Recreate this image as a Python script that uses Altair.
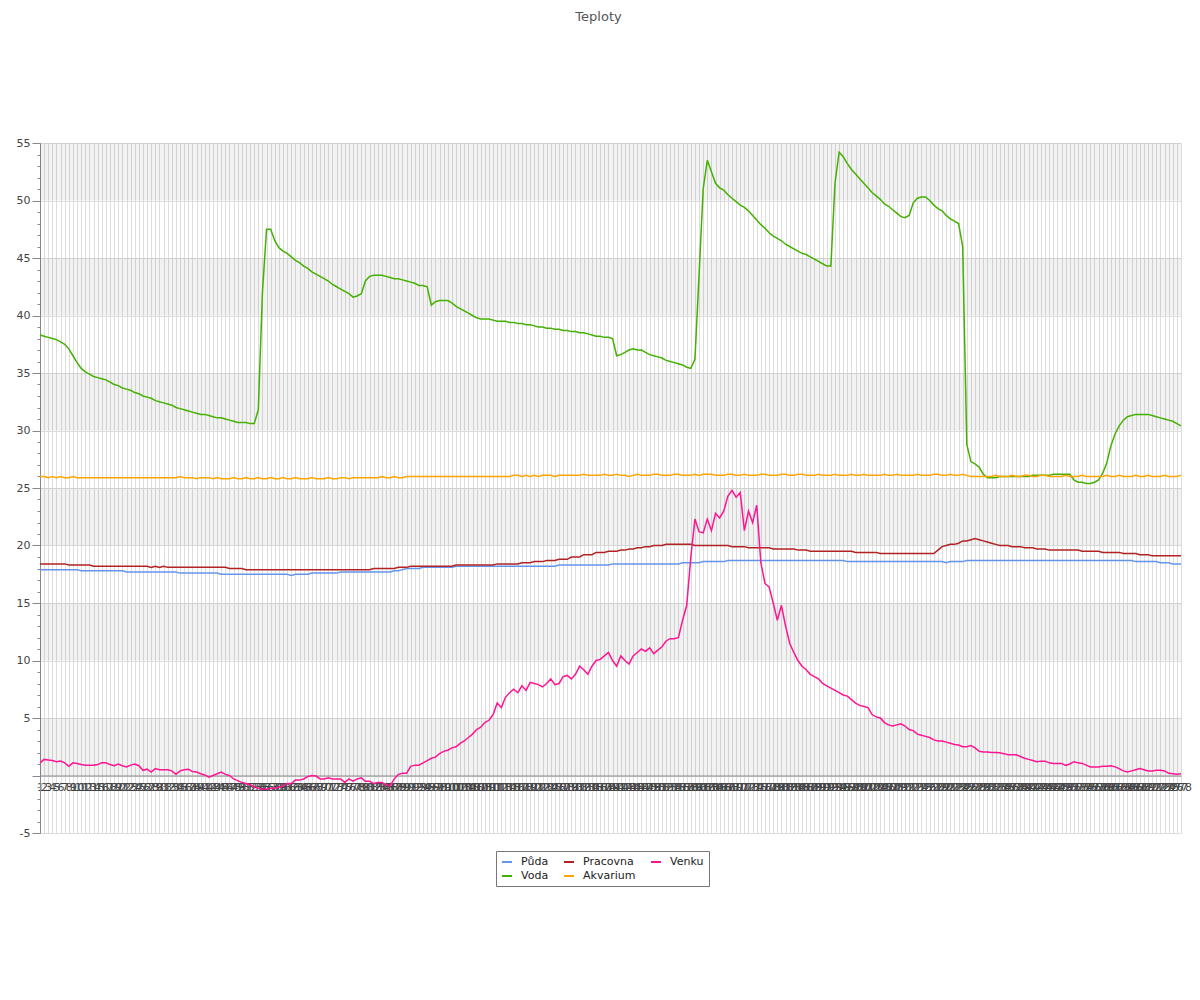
import altair as alt
import pandas as pd

# ---- data ----
series_names = ["Půda", "Voda", "Pracovna", "Akvarium", "Venku"]
x_labels = [str(i) for i in range(1, 279)]

puda = [
    17.9, 17.9, 17.9, 17.9, 17.9, 17.9, 17.9, 17.9, 17.9, 17.9,
    17.8, 17.8, 17.8, 17.8, 17.8, 17.8, 17.8, 17.8, 17.8, 17.8,
    17.8, 17.7, 17.7, 17.7, 17.7, 17.7, 17.7, 17.7, 17.7, 17.7,
    17.7, 17.7, 17.7, 17.7, 17.6, 17.6, 17.6, 17.6, 17.6, 17.6,
    17.6, 17.6, 17.6, 17.6, 17.5, 17.5, 17.5, 17.5, 17.5, 17.5,
    17.5, 17.5, 17.5, 17.5, 17.5, 17.5, 17.5, 17.5, 17.5, 17.5,
    17.5, 17.4, 17.5, 17.5, 17.5, 17.5, 17.6, 17.6, 17.6, 17.6,
    17.6, 17.6, 17.6, 17.7, 17.7, 17.7, 17.7, 17.7, 17.7, 17.7,
    17.7, 17.7, 17.7, 17.7, 17.7, 17.7, 17.8, 17.8, 17.9, 18.0,
    18.0, 18.0, 18.0, 18.1, 18.1, 18.1, 18.1, 18.1, 18.1, 18.1,
    18.1, 18.2, 18.2, 18.2, 18.2, 18.2, 18.2, 18.2, 18.2, 18.2,
    18.2, 18.2, 18.2, 18.2, 18.2, 18.2, 18.2, 18.2, 18.2, 18.2,
    18.2, 18.2, 18.2, 18.2, 18.2, 18.2, 18.3, 18.3, 18.3, 18.3,
    18.3, 18.3, 18.3, 18.3, 18.3, 18.3, 18.3, 18.3, 18.3, 18.4,
    18.4, 18.4, 18.4, 18.4, 18.4, 18.4, 18.4, 18.4, 18.4, 18.4,
    18.4, 18.4, 18.4, 18.4, 18.4, 18.4, 18.5, 18.5, 18.5, 18.5,
    18.5, 18.6, 18.6, 18.6, 18.6, 18.6, 18.6, 18.7, 18.7, 18.7,
    18.7, 18.7, 18.7, 18.7, 18.7, 18.7, 18.7, 18.7, 18.7, 18.7,
    18.7, 18.7, 18.7, 18.7, 18.7, 18.7, 18.7, 18.7, 18.7, 18.7,
    18.7, 18.7, 18.7, 18.7, 18.7, 18.7, 18.6, 18.6, 18.6, 18.6,
    18.6, 18.6, 18.6, 18.6, 18.6, 18.6, 18.6, 18.6, 18.6, 18.6,
    18.6, 18.6, 18.6, 18.6, 18.6, 18.6, 18.6, 18.6, 18.6, 18.6,
    18.5, 18.6, 18.6, 18.6, 18.6, 18.7, 18.7, 18.7, 18.7, 18.7,
    18.7, 18.7, 18.7, 18.7, 18.7, 18.7, 18.7, 18.7, 18.7, 18.7,
    18.7, 18.7, 18.7, 18.7, 18.7, 18.7, 18.7, 18.7, 18.7, 18.7,
    18.7, 18.7, 18.7, 18.7, 18.7, 18.7, 18.7, 18.7, 18.7, 18.7,
    18.7, 18.7, 18.7, 18.7, 18.7, 18.7, 18.6, 18.6, 18.6, 18.6,
    18.6, 18.6, 18.5, 18.5, 18.5, 18.4, 18.4, 18.4,
]

voda = [
    38.3, 38.2, 38.1, 38.0, 37.9, 37.7, 37.5, 37.1, 36.5, 35.9,
    35.4, 35.1, 34.9, 34.7, 34.6, 34.5, 34.4, 34.2, 34.0, 33.9,
    33.7, 33.6, 33.5, 33.3, 33.2, 33.0, 32.9, 32.8, 32.6, 32.5,
    32.4, 32.3, 32.2, 32.0, 31.9, 31.8, 31.7, 31.6, 31.5, 31.4,
    31.4, 31.3, 31.2, 31.1, 31.1, 31.0, 30.9, 30.8, 30.7, 30.7,
    30.7, 30.6, 30.6, 31.8, 42.0, 47.5, 47.5, 46.5, 45.9, 45.6,
    45.4, 45.1, 44.8, 44.6, 44.3, 44.1, 43.8, 43.6, 43.4, 43.2,
    43.0, 42.7, 42.5, 42.3, 42.1, 41.9, 41.6, 41.7, 41.9, 43.0,
    43.4, 43.5, 43.5, 43.5, 43.4, 43.3, 43.2, 43.2, 43.1, 43.0,
    42.9, 42.8, 42.6, 42.6, 42.5, 40.9, 41.2, 41.3, 41.3, 41.3,
    41.1, 40.8, 40.6, 40.4, 40.2, 40.0, 39.8, 39.7, 39.7, 39.7,
    39.6, 39.5, 39.5, 39.5, 39.4, 39.4, 39.3, 39.3, 39.2, 39.2,
    39.1, 39.0, 39.0, 38.9, 38.9, 38.8, 38.8, 38.7, 38.7, 38.6,
    38.6, 38.5, 38.5, 38.4, 38.3, 38.2, 38.2, 38.1, 38.1, 38.0,
    36.5, 36.6, 36.8, 37.0, 37.1, 37.0, 37.0, 36.8, 36.6, 36.5,
    36.4, 36.3, 36.1, 36.0, 35.9, 35.8, 35.7, 35.5, 35.4, 36.2,
    43.5, 51.0, 53.5, 52.5, 51.5, 51.1, 50.9, 50.5, 50.2, 49.9,
    49.6, 49.4, 49.1, 48.7, 48.3, 47.9, 47.6, 47.2, 46.9, 46.7,
    46.5, 46.2, 46.0, 45.8, 45.6, 45.4, 45.3, 45.1, 44.9, 44.7,
    44.5, 44.3, 44.3, 51.5, 54.2, 53.8, 53.2, 52.7, 52.3, 51.9,
    51.5, 51.1, 50.7, 50.4, 50.1, 49.7, 49.5, 49.2, 48.9, 48.6,
    48.5, 48.7, 49.8, 50.2, 50.3, 50.3, 50.0, 49.6, 49.3, 49.1,
    48.7, 48.4, 48.2, 48.0, 46.0, 28.8, 27.3, 27.1, 26.8, 26.2,
    25.9, 25.9, 25.9, 26.0, 26.0, 26.0, 26.0, 26.0, 26.0, 26.0,
    26.0, 26.1, 26.1, 26.1, 26.1, 26.1, 26.2, 26.2, 26.2, 26.2,
    26.2, 25.7, 25.5, 25.5, 25.4, 25.4, 25.5, 25.7, 26.3, 27.2,
    28.7, 29.7, 30.4, 30.9, 31.2, 31.3, 31.4, 31.4, 31.4, 31.4,
    31.3, 31.2, 31.1, 31.0, 30.9, 30.8, 30.6, 30.4,
]

pracovna = [
    18.4, 18.4, 18.4, 18.4, 18.4, 18.4, 18.4, 18.3, 18.3, 18.3,
    18.3, 18.3, 18.3, 18.2, 18.2, 18.2, 18.2, 18.2, 18.2, 18.2,
    18.2, 18.2, 18.2, 18.2, 18.2, 18.2, 18.2, 18.1, 18.2, 18.1,
    18.2, 18.1, 18.1, 18.1, 18.1, 18.1, 18.1, 18.1, 18.1, 18.1,
    18.1, 18.1, 18.1, 18.1, 18.1, 18.1, 18.0, 18.0, 18.0, 18.0,
    17.9, 17.9, 17.9, 17.9, 17.9, 17.9, 17.9, 17.9, 17.9, 17.9,
    17.9, 17.9, 17.9, 17.9, 17.9, 17.9, 17.9, 17.9, 17.9, 17.9,
    17.9, 17.9, 17.9, 17.9, 17.9, 17.9, 17.9, 17.9, 17.9, 17.9,
    17.9, 18.0, 18.0, 18.0, 18.0, 18.0, 18.0, 18.1, 18.1, 18.1,
    18.2, 18.2, 18.2, 18.2, 18.2, 18.2, 18.2, 18.2, 18.2, 18.2,
    18.2, 18.3, 18.3, 18.3, 18.3, 18.3, 18.3, 18.3, 18.3, 18.3,
    18.3, 18.4, 18.4, 18.4, 18.4, 18.4, 18.4, 18.5, 18.5, 18.5,
    18.6, 18.6, 18.6, 18.7, 18.7, 18.7, 18.8, 18.8, 18.8, 19.0,
    19.0, 19.0, 19.2, 19.2, 19.2, 19.4, 19.4, 19.4, 19.5, 19.5,
    19.5, 19.6, 19.6, 19.7, 19.7, 19.8, 19.8, 19.9, 19.9, 20.0,
    20.0, 20.0, 20.1, 20.1, 20.1, 20.1, 20.1, 20.1, 20.1, 20.0,
    20.0, 20.0, 20.0, 20.0, 20.0, 20.0, 20.0, 20.0, 19.9, 19.9,
    19.9, 19.9, 19.8, 19.8, 19.8, 19.8, 19.8, 19.8, 19.7, 19.7,
    19.7, 19.7, 19.7, 19.7, 19.6, 19.6, 19.6, 19.5, 19.5, 19.5,
    19.5, 19.5, 19.5, 19.5, 19.5, 19.5, 19.5, 19.5, 19.4, 19.4,
    19.4, 19.4, 19.4, 19.4, 19.3, 19.3, 19.3, 19.3, 19.3, 19.3,
    19.3, 19.3, 19.3, 19.3, 19.3, 19.3, 19.3, 19.3, 19.6, 19.9,
    20.0, 20.1, 20.1, 20.2, 20.4, 20.4, 20.5, 20.6, 20.5, 20.4,
    20.3, 20.2, 20.1, 20.0, 20.0, 20.0, 19.9, 19.9, 19.9, 19.8,
    19.8, 19.8, 19.7, 19.7, 19.7, 19.6, 19.6, 19.6, 19.6, 19.6,
    19.6, 19.6, 19.6, 19.5, 19.5, 19.5, 19.5, 19.5, 19.4, 19.4,
    19.4, 19.4, 19.4, 19.3, 19.3, 19.3, 19.3, 19.2, 19.2, 19.2,
    19.1, 19.1, 19.1, 19.1, 19.1, 19.1, 19.1, 19.1,
]

akvarium = [
    26.0, 26.0, 25.9, 26.0, 25.9, 26.0, 25.9, 25.9, 26.0, 25.9,
    25.9, 25.9, 25.9, 25.9, 25.9, 25.9, 25.9, 25.9, 25.9, 25.9,
    25.9, 25.9, 25.9, 25.9, 25.9, 25.9, 25.9, 25.9, 25.9, 25.9,
    25.9, 25.9, 25.9, 25.9, 26.0, 25.9, 25.9, 25.9, 25.8, 25.9,
    25.9, 25.9, 25.8, 25.9, 25.8, 25.8, 25.8, 25.9, 25.8, 25.8,
    25.9, 25.8, 25.8, 25.9, 25.8, 25.8, 25.9, 25.8, 25.8, 25.9,
    25.8, 25.8, 25.9, 25.8, 25.8, 25.8, 25.9, 25.8, 25.8, 25.8,
    25.9, 25.8, 25.8, 25.9, 25.9, 25.8, 25.9, 25.9, 25.9, 25.9,
    25.9, 25.9, 25.9, 26.0, 25.9, 25.9, 26.0, 25.9, 25.9, 26.0,
    26.0, 26.0, 26.0, 26.0, 26.0, 26.0, 26.0, 26.0, 26.0, 26.0,
    26.0, 26.0, 26.0, 26.0, 26.0, 26.0, 26.0, 26.0, 26.0, 26.0,
    26.0, 26.0, 26.0, 26.0, 26.0, 26.1, 26.1, 26.0, 26.1, 26.0,
    26.1, 26.0, 26.1, 26.1, 26.1, 26.0, 26.1, 26.1, 26.1, 26.1,
    26.1, 26.1, 26.2, 26.1, 26.1, 26.1, 26.1, 26.2, 26.1, 26.1,
    26.2, 26.1, 26.1, 26.0, 26.1, 26.2, 26.1, 26.1, 26.1, 26.2,
    26.2, 26.1, 26.1, 26.1, 26.2, 26.2, 26.1, 26.1, 26.1, 26.2,
    26.1, 26.2, 26.2, 26.2, 26.1, 26.1, 26.1, 26.2, 26.2, 26.1,
    26.1, 26.2, 26.1, 26.1, 26.1, 26.2, 26.2, 26.1, 26.1, 26.1,
    26.2, 26.2, 26.1, 26.1, 26.2, 26.2, 26.1, 26.1, 26.1, 26.2,
    26.1, 26.1, 26.1, 26.2, 26.1, 26.1, 26.1, 26.2, 26.1, 26.1,
    26.2, 26.1, 26.1, 26.1, 26.1, 26.2, 26.1, 26.1, 26.2, 26.1,
    26.1, 26.1, 26.1, 26.2, 26.1, 26.1, 26.1, 26.2, 26.2, 26.1,
    26.1, 26.2, 26.1, 26.1, 26.2, 26.1, 26.0, 26.0, 26.0, 26.0,
    26.0, 26.0, 26.1, 26.0, 26.0, 26.0, 26.1, 26.0, 26.0, 26.1,
    26.1, 26.0, 26.0, 26.1, 26.1, 26.0, 26.0, 26.0, 26.0, 26.1,
    26.0, 26.0, 26.0, 26.1, 26.0, 26.0, 26.0, 26.0, 26.0, 26.1,
    26.0, 26.0, 26.1, 26.0, 26.0, 26.0, 26.1, 26.0, 26.0, 26.1,
    26.0, 26.0, 26.0, 26.1, 26.0, 26.0, 26.0, 26.1,
]

venku = [
    1.1, 1.4, 1.35, 1.3, 1.2, 1.25, 1.1, 0.8, 1.1, 1.05,
    0.95, 0.9, 0.9, 0.9, 0.95, 1.1, 1.1, 0.95, 0.85, 1.0,
    0.85, 0.75, 0.9, 1.0, 0.85, 0.45, 0.55, 0.3, 0.6, 0.5,
    0.5, 0.5, 0.4, 0.1, 0.4, 0.5, 0.55, 0.35, 0.3, 0.15,
    0.05, -0.15, 0.0, 0.15, 0.3, 0.1, 0.0, -0.3, -0.45, -0.6,
    -0.7, -0.8, -1.0, -1.1, -1.2, -1.2, -1.1, -1.1, -1.0, -0.9,
    -0.7, -0.7, -0.4, -0.4, -0.3, -0.1, 0.0, -0.05, -0.3, -0.3,
    -0.2, -0.3, -0.3, -0.3, -0.6, -0.3, -0.5, -0.3, -0.2, -0.5,
    -0.5, -0.7, -0.6, -0.6, -0.8, -0.9, -0.3, 0.1, 0.2, 0.2,
    0.8, 0.9, 0.9, 1.1, 1.3, 1.5, 1.6, 1.9, 2.1, 2.2,
    2.4, 2.5, 2.8, 3.0, 3.3, 3.6, 4.0, 4.2, 4.6, 4.8,
    5.3, 6.3, 5.9, 6.8, 7.2, 7.5, 7.2, 7.8, 7.4, 8.1,
    8.0, 7.9, 7.7, 8.0, 8.4, 7.9, 8.0, 8.6, 8.7, 8.4,
    8.8, 9.5, 9.2, 8.8, 9.5, 10.0, 10.1, 10.4, 10.7, 10.0,
    9.5, 10.4, 10.0, 9.7, 10.4, 10.7, 11.0, 10.8, 11.1, 10.6,
    10.9, 11.2, 11.7, 11.9, 11.9, 12.0, 13.5, 14.8, 19.0, 22.3,
    21.2, 21.1, 22.3, 21.3, 22.8, 22.4, 23.0, 24.3, 24.8, 24.2,
    24.6, 21.3, 23.0, 22.0, 23.5, 18.5, 16.7, 16.4, 15.0, 13.5,
    14.8, 13.0, 11.5, 10.7, 10.0, 9.5, 9.2, 8.8, 8.6, 8.4,
    8.0, 7.8, 7.6, 7.4, 7.2, 7.0, 6.9, 6.6, 6.3, 6.1,
    6.0, 5.9, 5.3, 5.1, 5.0, 4.6, 4.4, 4.3, 4.4, 4.5,
    4.3, 4.0, 3.9, 3.6, 3.5, 3.4, 3.3, 3.1, 3.0, 3.0,
    2.9, 2.8, 2.7, 2.65, 2.5, 2.5, 2.6, 2.4, 2.1, 2.05,
    2.05, 2.0, 2.0, 1.97, 1.9, 1.8, 1.8, 1.8, 1.65, 1.5,
    1.4, 1.3, 1.2, 1.25, 1.25, 1.1, 1.05, 1.05, 1.05, 0.87,
    1.0, 1.2, 1.1, 1.05, 0.9, 0.75, 0.75, 0.75, 0.8, 0.8,
    0.85, 0.75, 0.6, 0.4, 0.3, 0.4, 0.5, 0.6, 0.5, 0.4,
    0.4, 0.45, 0.45, 0.4, 0.2, 0.15, 0.1, 0.15,
]

band_starts = [0, 10, 20, 30, 40, 50]
band_ends = [5, 15, 25, 35, 45, 55]
y_tick_values = list(range(-5, 56))

legend_order = ["Půda", "Pracovna", "Venku", "Voda", "Akvarium"]
legend_colors = ["#6495ED", "#B22222", "#FF1493", "#44B000", "#FFA500"]

values_by_series = {
    "Půda": puda,
    "Voda": voda,
    "Pracovna": pracovna,
    "Akvarium": akvarium,
    "Venku": venku,
}
for name, vals in values_by_series.items():
    assert len(vals) == len(x_labels), (name, len(vals))

rows = []
for name in series_names:
    for lab, v in zip(x_labels, values_by_series[name]):
        rows.append({"t": int(lab), "serie": name, "hodnota": v})
df = pd.DataFrame(rows)
bands_df = pd.DataFrame({"y0": band_starts, "y1": band_ends})

W, H = 1141, 690
FONT = "DejaVu Sans"

y_scale = alt.Scale(domain=[-5, 55], nice=False, zero=False)

y_axis = alt.Axis(
    title=None,
    values=y_tick_values,
    labelExpr="(datum.value % 5 === 0 && datum.value !== 0) ? ('' + datum.value) : ''",
    labelOverlap=False,
    labelFontSize=11,
    labelFont=FONT,
    labelColor="#444",
    tickColor="#888",
    domainColor="#888",
    tickSize={"condition": {"test": "datum.value % 5 === 0", "value": 8}, "value": 3},
    grid=True,
    gridColor="#dddddd",
    gridOpacity={"condition": {"test": "datum.value % 5 === 0", "value": 1}, "value": 0},
    labelPadding=2,
    minExtent=32,
    maxExtent=32,
)

bands = alt.Chart(bands_df).mark_rect(color="#000000", opacity=0.05).encode(
    y=alt.Y("y0:Q", scale=y_scale, axis=y_axis),
    y2="y1:Q",
    x=alt.value(0),
    x2=alt.value(W),
)

lines = alt.Chart(df).mark_line(strokeWidth=1.5).encode(
    x=alt.X(
        "t:O",
        scale=alt.Scale(type="point", padding=0),
        axis=alt.Axis(
            title=None,
            labelAngle=0,
            labelOverlap=False,
            labelFontSize=11,
            labelFont=FONT,
            labelColor="#444",
            ticks=False,
            labelPadding=6,
            domainColor="#888",
            grid=True,
            gridColor="#dddddd",
            offset=-57.5,
        ),
    ),
    y=alt.Y("hodnota:Q", scale=y_scale, axis=y_axis),
    color=alt.Color(
        "serie:N",
        scale=alt.Scale(domain=legend_order, range=legend_colors),
        legend=alt.Legend(
            title=None,
            orient="none",
            legendX=456,
            legendY=708,
            direction="horizontal",
            columns=3,
            symbolType="stroke",
            symbolSize=100,
            symbolStrokeWidth=2,
            labelFontSize=11,
            labelFont=FONT,
            labelColor="#222",
            labelOffset=8,
            columnPadding=11,
            rowPadding=3,
            strokeColor="#777777",
            fillColor="#ffffff",
            padding=5,
        ),
    ),
    detail="serie:N",
)

chart = alt.layer(bands, lines).properties(
    width=W,
    height=H,
    padding={"left": 0, "top": 3, "right": 0, "bottom": 0},
    title=alt.TitleParams(
        "Teploty", fontSize=13, fontWeight="normal", color="#555",
        font=FONT, anchor="middle", offset=113, dx=-12,
    ),
).configure_view(stroke=None).configure_axisY(labelOverlap=False)

chart.save("out.html", embed_options={"renderer": "svg", "actions": False})
